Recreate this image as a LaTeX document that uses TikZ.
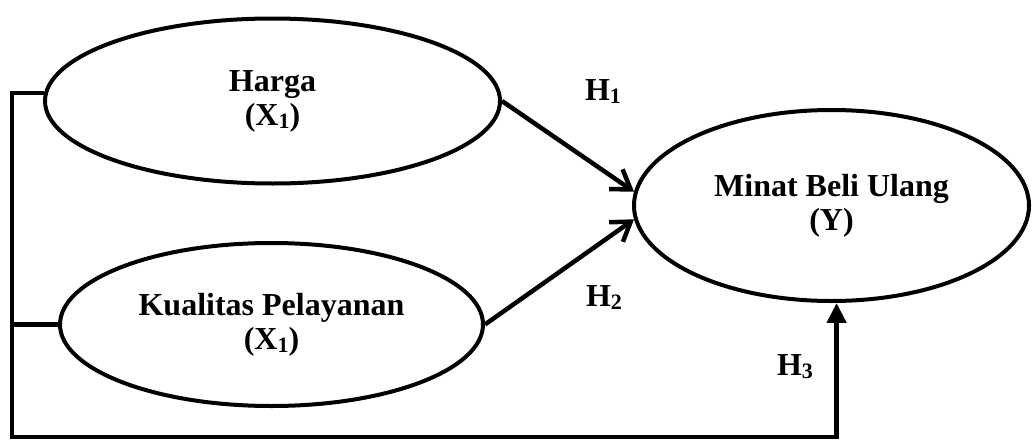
\documentclass[tikz,border=0pt]{standalone}
\usepackage{fontspec}
\setmainfont{Liberation Serif}
\usetikzlibrary{shapes.geometric,arrows.meta}
\newcommand{\sub}[1]{\raisebox{-3pt}{\fontsize{22}{22}\selectfont #1}}
\begin{document}
\begin{tikzpicture}[x=1pt,y=-1pt,
  var/.style={ellipse,draw,line width=4pt,inner sep=0pt,align=center,font=\bfseries\fontsize{32}{34}\selectfont},
  lbl/.style={font=\bfseries\fontsize{32}{34}\selectfont,inner sep=0pt},
  link/.style={line width=4.5pt,line join=miter},
  hyp/.style={link,-{Straight Barb[length=18pt,width=24pt]}},
  up/.style={link,-{Triangle[length=20pt,width=19pt]}}
]
\useasboundingbox (0,0) rectangle (1033,442);
\node[var,minimum width=455pt,minimum height=165pt] (harga) at (272.5,101) {Harga\\(X\sub{1})};
\node[var,minimum width=423pt,minimum height=163pt] (kual) at (271.5,324.5) {Kualitas Pelayanan\\(X\sub{1})};
\node[var,minimum width=395pt,minimum height=191pt] (minat) at (831.5,205.5) {Minat Beli Ulang\\(Y)};
\coordinate (bl) at (12,437);
\draw[hyp] (harga.east) -- (minat.176);
\draw[hyp] (kual.east) -- (minat.184);
\draw[up] (harga.178) -- (harga.178 -| bl) -- (bl) -- (bl -| minat.273) -- (minat.273);
\draw[link] (kual.west) -- (kual.west -| bl);
\node[lbl] (h1) at (603,92) {H\sub{1}};
\node[lbl] (h2) at (604,298) {H\sub{2}};
\node[lbl] (h3) at (795,367) {H\sub{3}};
\end{tikzpicture}
\end{document}
